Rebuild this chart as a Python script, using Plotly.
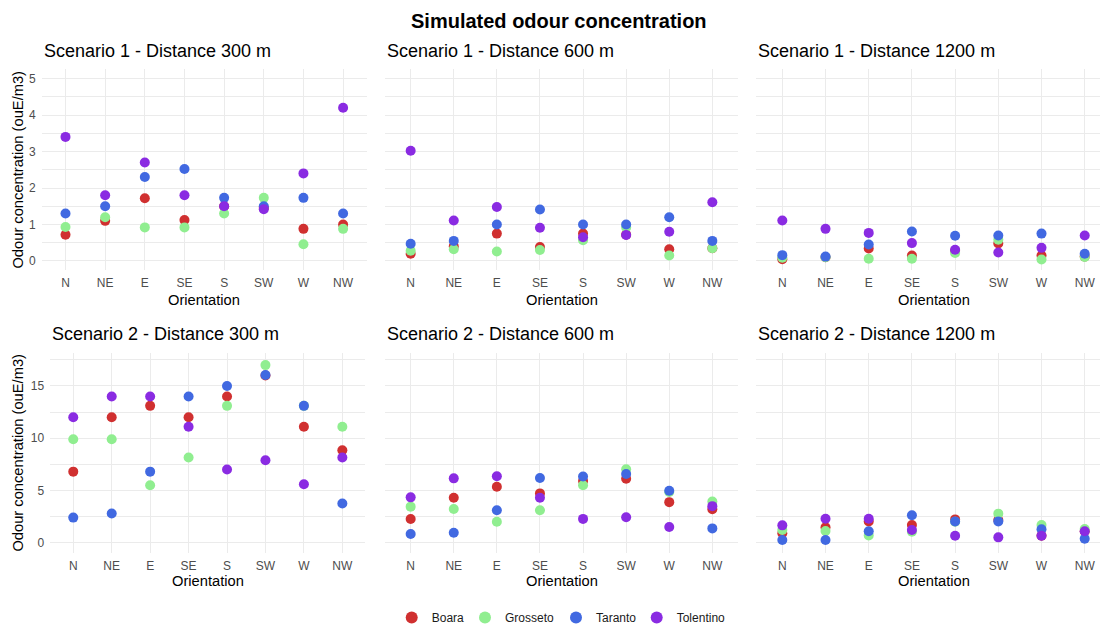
import plotly.graph_objects as go

# ---------------- data ----------------
orientations = ["N", "NE", "E", "SE", "S", "SW", "W", "NW"]
sites = ["Boara", "Grosseto", "Taranto", "Tolentino"]
site_colors = ["#D03030", "#90EE90", "#4169E1", "#8A2BE2"]

# Scenario 1 - Distance 300 m
s1_300_boara = [0.72, 1.10, 1.72, 1.12, 1.50, 1.45, 0.88, 1.00]
s1_300_grosseto = [0.93, 1.20, 0.92, 0.92, 1.30, 1.73, 0.46, 0.88]
s1_300_taranto = [1.30, 1.50, 2.30, 2.52, 1.73, 1.50, 1.73, 1.30]
s1_300_tolentino = [3.40, 1.80, 2.70, 1.80, 1.50, 1.42, 2.40, 4.20]

# Scenario 1 - Distance 600 m
s1_600_boara = [0.20, 0.40, 0.75, 0.38, 0.75, 0.72, 0.32, 0.35]
s1_600_grosseto = [0.28, 0.32, 0.26, 0.30, 0.57, 0.92, 0.15, 0.35]
s1_600_taranto = [0.47, 0.55, 1.00, 1.41, 1.00, 1.00, 1.20, 0.55]
s1_600_tolentino = [3.02, 1.11, 1.48, 0.91, 0.65, 0.71, 0.80, 1.61]

# Scenario 1 - Distance 1200 m
s1_1200_boara = [0.05, 0.10, 0.34, 0.15, 0.28, 0.48, 0.15, 0.12]
s1_1200_grosseto = [0.09, 0.10, 0.06, 0.06, 0.22, 0.58, 0.04, 0.11]
s1_1200_taranto = [0.16, 0.12, 0.45, 0.81, 0.69, 0.70, 0.75, 0.20]
s1_1200_tolentino = [1.11, 0.88, 0.77, 0.49, 0.31, 0.23, 0.36, 0.70]

# Scenario 2 - Distance 300 m
s2_300_boara = [6.8, 12.0, 13.1, 12.0, 14.0, 16.0, 11.1, 8.85]
s2_300_grosseto = [9.9, 9.9, 5.5, 8.15, 13.1, 17.0, 13.1, 11.1]
s2_300_taranto = [2.4, 2.8, 6.8, 14.0, 15.0, 16.05, 13.1, 3.75]
s2_300_tolentino = [12.0, 14.0, 14.0, 11.1, 7.0, 7.9, 5.6, 8.15]

# Scenario 2 - Distance 600 m
s2_600_boara = [2.27, 4.30, 5.35, 4.72, 5.90, 6.12, 3.88, 3.20]
s2_600_grosseto = [3.45, 3.22, 2.00, 3.10, 5.50, 7.02, 4.85, 3.95]
s2_600_taranto = [0.83, 0.96, 3.10, 6.20, 6.33, 6.57, 4.98, 1.37]
s2_600_tolentino = [4.34, 6.16, 6.36, 4.31, 2.28, 2.43, 1.50, 3.50]

# Scenario 2 - Distance 1200 m
s2_1200_boara = [0.90, 1.47, 2.04, 1.69, 2.23, 2.17, 0.67, 1.09]
s2_1200_grosseto = [1.21, 1.12, 0.70, 1.05, 2.00, 2.78, 1.69, 1.31]
s2_1200_taranto = [0.26, 0.26, 1.09, 2.62, 2.04, 2.04, 1.28, 0.38]
s2_1200_tolentino = [1.66, 2.30, 2.30, 1.21, 0.67, 0.51, 0.67, 1.09]

panel_titles = [
    "Scenario 1 - Distance 300 m", "Scenario 1 - Distance 600 m", "Scenario 1 - Distance 1200 m",
    "Scenario 2 - Distance 300 m", "Scenario 2 - Distance 600 m", "Scenario 2 - Distance 1200 m",
]
panel_data = [
    [s1_300_boara, s1_300_grosseto, s1_300_taranto, s1_300_tolentino],
    [s1_600_boara, s1_600_grosseto, s1_600_taranto, s1_600_tolentino],
    [s1_1200_boara, s1_1200_grosseto, s1_1200_taranto, s1_1200_tolentino],
    [s2_300_boara, s2_300_grosseto, s2_300_taranto, s2_300_tolentino],
    [s2_600_boara, s2_600_grosseto, s2_600_taranto, s2_600_tolentino],
    [s2_1200_boara, s2_1200_grosseto, s2_1200_taranto, s2_1200_tolentino],
]

# ---------------- layout geometry (pixels) ----------------
W, H = 1100, 624
# per-row column extents (first column differs between rows: wider tick labels in row 2)
col_px = [
    [(41.7, 366.9), (384.8, 738.2), (756.4, 1100.0)],
    [(50.2, 365.4), (384.8, 738.2), (756.4, 1100.0)],
]
col_xrange = [[-0.6, 7.6], [-0.6, 7.6], [-0.6, 7.354]]
col_title_center = [
    [204.3, 561.5, 933.7],
    [207.8, 561.5, 933.7],
]
row_px = [(69.4, 270.1), (352.8, 552.8)]
row_yrange = [[-0.25, 5.25], [-0.967, 18.177]]
row_dtick = [1, 5]
row_minor = [0.5, 2.5]
row_title_y = [50.7, 334.0]
row_xlab_y = [300.0, 580.7]
legend_dot_x = [411.7, 485.0, 576.0, 656.7]

FONT = "Liberation Sans, Arial, sans-serif"
GRID = "#EBEBEB"

fig = go.Figure()
layout = dict(
    width=W, height=H,
    margin=dict(l=0, r=0, t=0, b=0, autoexpand=False),
    paper_bgcolor="white", plot_bgcolor="white",
    font=dict(family=FONT, color="black"),
    showlegend=True,
)
for s in range(4):
    key = "legend" if s == 0 else f"legend{s + 1}"
    layout[key] = dict(
        orientation="h", x=(legend_dot_x[s] - 20) / W, xanchor="left",
        y=1 - 617.5 / H, yanchor="middle",
        font=dict(size=12, color="#1A1A1A"), itemsizing="constant",
        bgcolor="rgba(0,0,0,0)", borderwidth=0,
    )
annotations = []

for p in range(6):
    r, c = divmod(p, 3)
    idx = p + 1
    xa = "x" if idx == 1 else f"x{idx}"
    ya = "y" if idx == 1 else f"y{idx}"
    for s in range(4):
        fig.add_trace(go.Scatter(
            x=orientations, y=panel_data[p][s], mode="markers",
            name=sites[s], legendgroup=sites[s], showlegend=(p == 0),
            legend="legend" if s == 0 else f"legend{s + 1}",
            marker=dict(color=site_colors[s], size=10, line=dict(width=0)),
            xaxis=xa, yaxis=ya, cliponaxis=False,
        ))
    x0, x1 = col_px[r][c]
    y0, y1 = row_px[r]
    layout["xaxis" if idx == 1 else f"xaxis{idx}"] = dict(
        domain=[x0 / W, x1 / W], anchor=ya, type="category",
        categoryorder="array", categoryarray=orientations,
        range=col_xrange[c], showgrid=True, gridcolor=GRID, gridwidth=1.4,
        zeroline=False, showline=False, ticks="", automargin=False,
        tickfont=dict(size=12, color="#4D4D4D"), ticklabelstandoff=4,
    )
    layout["yaxis" if idx == 1 else f"yaxis{idx}"] = dict(
        domain=[1 - y1 / H, 1 - y0 / H], anchor=xa,
        range=row_yrange[r], tick0=0, dtick=row_dtick[r],
        showgrid=True, gridcolor=GRID, gridwidth=1.4, zeroline=False,
        showline=False, ticks="", showticklabels=(c == 0), automargin=False,
        tickfont=dict(size=12, color="#4D4D4D"), ticklabelstandoff=5,
        minor=dict(dtick=row_minor[r], tick0=0, showgrid=True, gridcolor=GRID, gridwidth=0.9),
    )
    annotations.append(dict(
        text=panel_titles[p], x=x0 / W, y=1 - row_title_y[r] / H, xref="paper", yref="paper",
        xanchor="left", yanchor="middle", showarrow=False, font=dict(size=18, color="black"),
    ))
    annotations.append(dict(
        text="Orientation", x=col_title_center[r][c] / W, y=1 - row_xlab_y[r] / H,
        xref="paper", yref="paper", xanchor="center", yanchor="middle", showarrow=False,
        font=dict(size=14.7, color="black"),
    ))
    if c == 0:
        annotations.append(dict(
            text="Odour concentration (ouE/m3)", x=17.8 / W, y=1 - (y0 + y1) / 2 / H,
            xref="paper", yref="paper", xanchor="center", yanchor="middle", textangle=-90,
            showarrow=False, font=dict(size=14.7, color="black"),
        ))

annotations.append(dict(
    text="<b>Simulated odour concentration</b>", x=558.8 / W, y=1 - 21 / H,
    xref="paper", yref="paper", xanchor="center", yanchor="middle", showarrow=False,
    font=dict(size=20, color="black"),
))
layout["annotations"] = annotations
fig.update_layout(**layout)
fig.write_html(
    "out.html",
    config={"displayModeBar": False},
    post_script="document.body.style.margin='0';document.body.style.overflow='hidden';",
)
